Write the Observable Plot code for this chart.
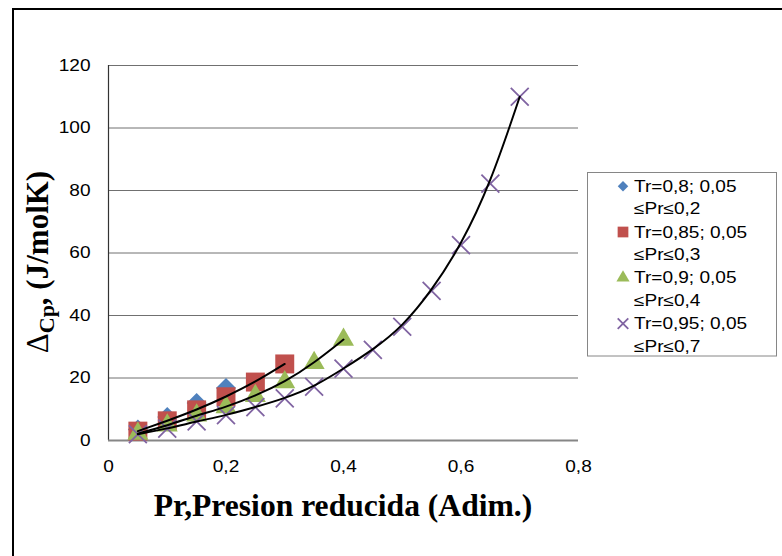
<!DOCTYPE html>
<html>
<head>
<meta charset="utf-8">
<script src="https://cdn.jsdelivr.net/npm/d3@7"></script>
<script src="https://cdn.jsdelivr.net/npm/@observablehq/plot@0.6"></script>
<style>
  html, body { margin: 0; padding: 0; background: #fff; }
  #wrap { position: relative; width: 782px; height: 556px; overflow: hidden; }
  #frame { position: absolute; left: 11.5px; top: 7.8px; width: 900px; height: 700px;
           border-left: 2.4px solid #000; border-top: 2.4px solid #000; pointer-events: none; }
  #wrap svg { position: absolute; left: 0; top: 0; }
</style>
</head>
<body>
<div id="wrap"><div id="frame"></div></div>
<script>
// ---- data ----
const pr08  = [0.05, 0.10, 0.15, 0.20];
const cp08  = [3.5, 7.5, 12.0, 16.8];
const pr085 = [0.05, 0.10, 0.15, 0.20, 0.25, 0.30];
const cp085 = [3.0, 6.3, 9.8, 14.0, 18.7, 24.5];
const pr09  = [0.05, 0.10, 0.15, 0.20, 0.25, 0.30, 0.35, 0.40];
const cp09  = [2.2, 4.8, 8.0, 10.7, 14.3, 18.7, 24.8, 32.3];
const pr095 = [0.05, 0.10, 0.15, 0.20, 0.25, 0.30, 0.35, 0.40, 0.45, 0.50, 0.55, 0.60, 0.65, 0.70];
const cp095 = [2.0, 3.8, 6.1, 8.1, 10.7, 13.5, 17.2, 23.0, 29.0, 36.4, 47.9, 62.5, 82.2, 110.0];

const seriesNames = [
  ["Tr=0,8; 0,05", "\u2264Pr\u22640,2"],
  ["Tr=0,85; 0,05", "\u2264Pr\u22640,3"],
  ["Tr=0,9; 0,05", "\u2264Pr\u22640,4"],
  ["Tr=0,95; 0,05", "\u2264Pr\u22640,7"]
];
const xTicks = [0, 0.2, 0.4, 0.6, 0.8];
const xTickLabels = ["0", "0,2", "0,4", "0,6", "0,8"];
const yTicks = [0, 20, 40, 60, 80, 100, 120];
const xTitle = "Pr,Presion reducida (Adim.)";
const yTitleParts = ["\u0394", "Cp", ", (J/molK)"];

// ---- build tables ----
const toRows = (xs, ys) => xs.map((x, i) => ({x, y: ys[i]}));
const s08 = toRows(pr08, cp08);
const s085 = toRows(pr085, cp085);
const s09 = toRows(pr09, cp09);
const s095 = toRows(pr095, cp095);

const colors = ["#4F81BD", "#C0504D", "#9BBB59", "#8064A2"];
const SANS = "'Liberation Sans', Arial, sans-serif";
const SERIF = "'Liberation Serif', 'Times New Roman', serif";
const FS = 16;

const chart = Plot.plot({
  width: 782,
  height: 556,
  marginLeft: 108,
  marginRight: 204,
  marginTop: 65,
  marginBottom: 116,
  style: {fontFamily: SANS, fontSize: FS + "px", color: "#000", background: "transparent", overflow: "visible"},
  x: {domain: [0, 0.8]},
  y: {domain: [0, 120]},
  marks: [
    Plot.gridY(yTicks.filter(d => d > 0), {stroke: "#707070", strokeOpacity: 1, strokeWidth: 1}),
    Plot.axisX(xTicks, {tickSize: 0, tickPadding: 20, label: null, fontSize: FS,
                        tickFormat: d => xTickLabels[xTicks.indexOf(d)]}),
    Plot.axisY(yTicks, {tickSize: 0, tickPadding: 18, label: null, fontSize: FS}),
    Plot.ruleX([0], {stroke: "#333", strokeWidth: 1.2}),
    Plot.ruleY([0], {stroke: "#868686", strokeWidth: 1.8}),
    Plot.dot(s08, {x: "x", y: "y", symbol: "diamond2", fill: colors[0], r: 9}),
    Plot.dot(s085, {x: "x", y: "y", symbol: "square", fill: colors[1], r: 10.7}),
    Plot.dot(s09, {x: "x", y: "y", symbol: "triangle", fill: colors[2], r: 7.8}),
    Plot.dot(s095, {x: "x", y: "y", symbol: "times", stroke: colors[3], strokeWidth: 1.8, r: 8.2}),
    Plot.line(s085, {x: "x", y: "y", curve: "basis", stroke: "#000", strokeWidth: 2}),
    Plot.line(s09, {x: "x", y: "y", curve: "basis", stroke: "#000", strokeWidth: 2}),
    Plot.line(s095, {x: "x", y: "y", curve: "basis", stroke: "#000", strokeWidth: 2})
  ]
});

document.getElementById("wrap").appendChild(chart);
const svg = d3.select(chart);

// axis titles
svg.append("text")
  .attr("x", 343).attr("y", 516)
  .attr("text-anchor", "middle")
  .style("font-family", SERIF).style("font-weight", "bold").style("font-size", "31.6px")
  .attr("fill", "#000")
  .text(xTitle);

const yt = svg.append("text")
  .attr("transform", "translate(48,262) rotate(-90)")
  .attr("text-anchor", "middle")
  .style("font-family", SERIF).style("font-size", "31px").attr("fill", "#000");
yt.append("tspan").style("font-weight", "normal").text(yTitleParts[0]);
yt.append("tspan").style("font-weight", "bold").style("font-size", "22px").attr("dy", 6).text(yTitleParts[1]);
yt.append("tspan").style("font-weight", "bold").attr("dy", -6).text(yTitleParts[2]);

// legend
const lg = svg.append("g").attr("text-anchor", "start");
lg.append("rect").attr("x", 587.5).attr("y", 172.5).attr("width", 189).attr("height", 183.5)
  .attr("fill", "#fff").attr("stroke", "#868686").attr("stroke-width", 1);
const legSymbols = [d3.symbolDiamond2, d3.symbolSquare, d3.symbolTriangle, d3.symbolTimes];
const legSizes = [70, 115, 75, 75];
seriesNames.forEach((lines, i) => {
  const base = 191.7 + i * 45.8;
  const p = lg.append("path")
    .attr("transform", `translate(623,${base - 5.5})`)
    .attr("d", d3.symbol(legSymbols[i], legSizes[i])());
  if (i === 3) p.attr("fill", "none").attr("stroke", colors[i]).attr("stroke-width", 1.8);
  else p.attr("fill", colors[i]);
  lines.forEach((t, j) => {
    lg.append("text").attr("class", "sans-leg")
      .attr("x", 634).attr("y", base + j * 22.6)
      .attr("text-anchor", "start")
      .style("font-family", SANS).style("font-size", FS + "px").attr("fill", "#000")
      .text(t);
  });
});

// horizontal stretch of the sans-serif texts (tick labels, legend) as in the reference
const STRETCH = 1.19;
chart.querySelectorAll("g[aria-label='x-axis tick label'] text, g[aria-label='y-axis tick label'] text, text.sans-leg")
  .forEach(el => {
    const L = el.getComputedTextLength();
    if (L > 0) {
      el.setAttribute("textLength", (L * STRETCH).toFixed(2));
      el.setAttribute("lengthAdjust", "spacingAndGlyphs");
    }
  });
</script>
</body>
</html>
